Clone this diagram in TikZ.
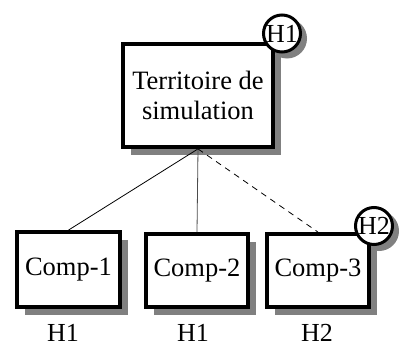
\documentclass[tikz,border=0pt]{standalone}
\usepackage{fontspec}
\setmainfont{Liberation Serif}
\begin{document}
\begin{tikzpicture}[x=1pt,y=-1pt,
  box/.style={draw=black,line width=3.8pt,fill=white,inner sep=0pt,font=\fontsize{26.5}{30}\selectfont,align=center},
  shad/.style={fill=black!50,draw=none},
  tag/.style={circle,draw=black,line width=3pt,fill=white,minimum size=37pt,inner sep=0pt,font=\fontsize{26}{30}\selectfont},
  lbl/.style={font=\fontsize{26}{30}\selectfont,inner sep=0pt},
  conn/.style={line width=0.8pt}]
\useasboundingbox (0,0) rectangle (399,348);
% shadows
\fill[shad] (131,55) rectangle (281,155);
\fill[shad] (25,240) rectangle (128,315);
\fill[shad] (154,242) rectangle (256,315);
\fill[shad] (275,242) rectangle (377,315);
\fill[shad] (287,38.5) circle (20pt);
\fill[shad] (379,231) circle (20pt);
% nodes
\node[box,minimum width=150pt,minimum height=103pt] (top) at (198,95.5) {Territoire de\\simulation};
\node[box,minimum width=103pt,minimum height=75pt] (c1) at (68.5,269.5) {Comp-1};
\node[box,minimum width=102pt,minimum height=73pt] (c2) at (197,270.5) {Comp-2};
\node[box,minimum width=102pt,minimum height=73pt] (c3) at (318,270.5) {Comp-3};
\node[tag] (t1) at (282,33.5) {H1};
\node[tag] (t2) at (374,226) {H2};
% connectors
\draw[conn] (top.south) -- (c1.north);
\draw[conn,black!70] (top.south) -- (c2.north);
\draw[conn,dashed,dash pattern=on 6pt off 5pt] (top.south) -- (c3.north);
% labels
\node[lbl] (l1) at (63,333) {H1};
\node[lbl] (l2) at (193,333) {H1};
\node[lbl] (l3) at (317,333) {H2};
\end{tikzpicture}
\end{document}
